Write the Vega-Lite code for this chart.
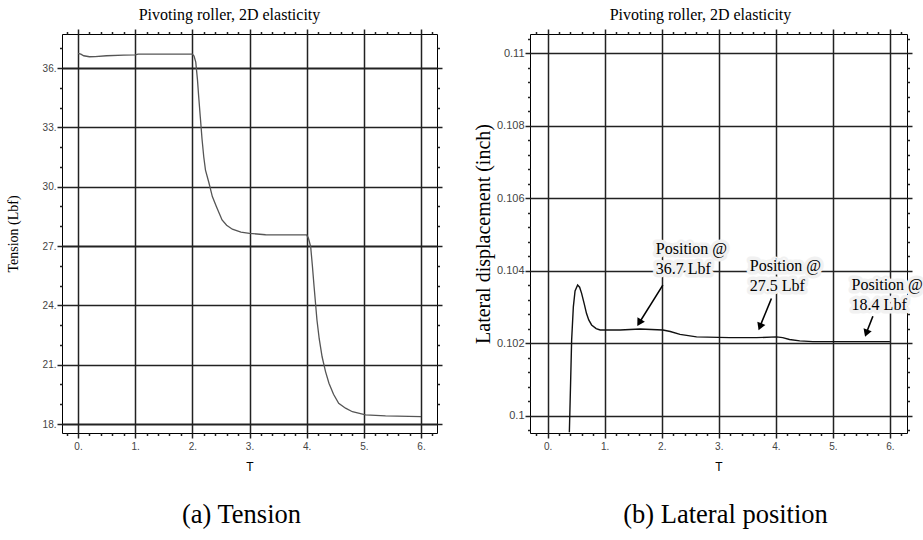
{
  "$schema": "https://vega.github.io/schema/vega-lite/v6.json",
  "padding": {"left": 5, "top": 5, "right": 0, "bottom": 0},
  "background": "white",
  "spacing": 28,
  "config": {
    "view": {"stroke": "#000", "strokeWidth": 1},
    "axis": {
      "domain": false,
      "gridColor": "#222",
      "tickColor": "#222",
      "labelColor": "#444",
      "labelFont": "Liberation Sans",
      "labelFontSize": 10,
      "titleColor": "#000",
      "titleFontWeight": "normal"
    },
    "title": {"font": "Liberation Serif", "fontWeight": "normal", "color": "#000"}
  },
  "datasets": {
    "tension": [
      {"t": 0, "v": 36.74}, {"t": 0.05, "v": 36.7}, {"t": 0.1, "v": 36.62}, {"t": 0.2, "v": 36.57},
      {"t": 0.3, "v": 36.58}, {"t": 0.5, "v": 36.62}, {"t": 0.8, "v": 36.65}, {"t": 1.0, "v": 36.66},
      {"t": 1.05, "v": 36.7}, {"t": 1.5, "v": 36.7}, {"t": 2.0, "v": 36.7}, {"t": 2.03, "v": 36.6},
      {"t": 2.06, "v": 36.3}, {"t": 2.09, "v": 35.4}, {"t": 2.11, "v": 34.6}, {"t": 2.14, "v": 33.5},
      {"t": 2.17, "v": 32.4}, {"t": 2.2, "v": 31.5}, {"t": 2.23, "v": 30.84}, {"t": 2.29, "v": 30.2},
      {"t": 2.35, "v": 29.5}, {"t": 2.42, "v": 29.0}, {"t": 2.52, "v": 28.32}, {"t": 2.6, "v": 28.05},
      {"t": 2.7, "v": 27.85}, {"t": 2.85, "v": 27.7}, {"t": 3.0, "v": 27.64}, {"t": 3.28, "v": 27.57},
      {"t": 4.0, "v": 27.56}, {"t": 4.03, "v": 27.4}, {"t": 4.07, "v": 26.97}, {"t": 4.1, "v": 26.0},
      {"t": 4.13, "v": 24.94}, {"t": 4.18, "v": 23.26}, {"t": 4.22, "v": 22.3}, {"t": 4.27, "v": 21.4},
      {"t": 4.33, "v": 20.65}, {"t": 4.39, "v": 20.06}, {"t": 4.47, "v": 19.5}, {"t": 4.56, "v": 19.05},
      {"t": 4.68, "v": 18.8}, {"t": 4.8, "v": 18.62}, {"t": 5.03, "v": 18.46}, {"t": 5.38, "v": 18.41},
      {"t": 6.0, "v": 18.37}
    ],
    "lateral": [
      {"t": 0.38, "v": 0.09955}, {"t": 0.4, "v": 0.1008}, {"t": 0.42, "v": 0.10209}, {"t": 0.45, "v": 0.10301},
      {"t": 0.48, "v": 0.10345}, {"t": 0.525, "v": 0.10361}, {"t": 0.56, "v": 0.10355}, {"t": 0.595, "v": 0.10338},
      {"t": 0.64, "v": 0.1031}, {"t": 0.68, "v": 0.10283}, {"t": 0.72, "v": 0.10265}, {"t": 0.77, "v": 0.10251},
      {"t": 0.85, "v": 0.10241}, {"t": 0.92, "v": 0.10237}, {"t": 1.27, "v": 0.10237}, {"t": 1.62, "v": 0.1024},
      {"t": 2.02, "v": 0.10237}, {"t": 2.15, "v": 0.10233}, {"t": 2.32, "v": 0.10225}, {"t": 2.61, "v": 0.10218},
      {"t": 3.19, "v": 0.10216}, {"t": 3.66, "v": 0.10216}, {"t": 4.01, "v": 0.10218}, {"t": 4.12, "v": 0.10216},
      {"t": 4.24, "v": 0.10211}, {"t": 4.42, "v": 0.10207}, {"t": 4.65, "v": 0.10205}, {"t": 6.0, "v": 0.10205}
    ],
    "notes": [
      {"t": 1.896, "v": 0.10482, "label": "Position @\n36.7 Lbf"},
      {"t": 3.543, "v": 0.10435, "label": "Position @\n27.5 Lbf"},
      {"t": 5.329, "v": 0.10382, "label": "Position @\n18.4 Lbf"}
    ],
    "arrows": [
      {"t": 2.019, "v": 0.10361, "t2": 1.61, "v2": 0.10258},
      {"t": 3.923, "v": 0.10324, "t2": 3.725, "v2": 0.10248},
      {"t": 5.702, "v": 0.10275, "t2": 5.59, "v2": 0.1023}
    ],
    "heads": [
      {"t": 1.605, "v": 0.10257, "angle": 31},
      {"t": 3.722, "v": 0.10246, "angle": 22},
      {"t": 5.587, "v": 0.10228, "angle": 20}
    ]
  },
  "hconcat": [
    {
      "width": 375,
      "height": 399,
      "title": {"text": "(a) Tension", "orient": "bottom", "font": "Liberation Serif", "fontWeight": "normal", "fontSize": 26.5, "offset": 30, "dx": -8, "color": "#000"},
      "layer": [
        {
          "data": {"name": "tension"},
          "mark": {"type": "line", "color": "#555", "strokeWidth": 1.3},
          "encoding": {
            "x": {
              "field": "t", "type": "quantitative",
              "scale": {"domain": [-0.28, 6.28], "nice": false, "zero": false},
              "axis": {
                "orient": "bottom",
                "values": [-0.2,0,0.2,0.4,0.6,0.8,1,1.2,1.4,1.6,1.8,2,2.2,2.4,2.6,2.8,3,3.2,3.4,3.6,3.8,4,4.2,4.4,4.6,4.8,5,5.2,5.4,5.6,5.8,6,6.2],
                "labelExpr": "abs(datum.value - round(datum.value)) < 0.001 ? round(datum.value) + '.' : ''",
                "grid": true,
                "gridWidth": 1.5,
                "gridOpacity": {"condition": {"test": "abs(datum.value - round(datum.value)) < 0.001", "value": 1}, "value": 0},
                "tickSize": {"condition": {"test": "abs(datum.value - round(datum.value)) < 0.001", "value": 5}, "value": 2.5},
                "tickWidth": 1.5,
                "labelPadding": 3,
                "title": "T",
                "titleFont": "Liberation Sans",
                "titleFontSize": 12,
                "titlePadding": 10
              }
            },
            "y": {
              "field": "v", "type": "quantitative",
              "scale": {"domain": [17.545, 37.72], "nice": false, "zero": false},
              "axis": {
                "orient": "left",
                "values": [18,19,20,21,22,23,24,25,26,27,28,29,30,31,32,33,34,35,36,37],
                "labelExpr": "datum.value % 3 == 0 ? datum.value + '.' : ''",
                "grid": true,
                "gridWidth": {"condition": {"test": "datum.value % 9 == 0", "value": 2.2}, "value": 1.4},
                "gridOpacity": {"condition": {"test": "datum.value % 3 == 0", "value": 1}, "value": 0},
                "tickSize": {"condition": {"test": "datum.value % 3 == 0", "value": 5}, "value": 2.5},
                "tickWidth": 1.5,
                "labelPadding": 1,
                "title": "Tension (Lbf)",
                "titleFont": "Liberation Serif",
                "titleFontSize": 14,
                "titlePadding": 22
              }
            }
          }
        },
        {
          "data": {"name": "tension"},
          "mark": {"type": "line", "opacity": 0},
          "encoding": {
            "x": {
              "field": "t", "type": "quantitative",
              "scale": {"domain": [-0.28, 6.28], "nice": false, "zero": false},
              "axis": {
                "orient": "top",
                "values": [-0.2,0,0.2,0.4,0.6,0.8,1,1.2,1.4,1.6,1.8,2,2.2,2.4,2.6,2.8,3,3.2,3.4,3.6,3.8,4,4.2,4.4,4.6,4.8,5,5.2,5.4,5.6,5.8,6,6.2],
                "labels": false,
                "grid": false,
                "tickSize": {"condition": {"test": "abs(datum.value - round(datum.value)) < 0.001", "value": 5}, "value": 2.5},
                "tickWidth": 1.5,
                "title": "Pivoting roller, 2D elasticity",
                "titleFont": "Liberation Serif",
                "titleFontSize": 16,
                "titlePadding": 6,
                "titleX": 167
              }
            },
            "y": {
              "field": "v", "type": "quantitative",
              "scale": {"domain": [17.545, 37.72], "nice": false, "zero": false},
              "axis": {
                "orient": "right",
                "values": [18,19,20,21,22,23,24,25,26,27,28,29,30,31,32,33,34,35,36,37],
                "labels": false,
                "grid": false,
                "tickSize": {"condition": {"test": "datum.value % 3 == 0", "value": 5}, "value": 2.5},
                "tickWidth": 1.5,
                "title": null
              }
            }
          }
        }
      ],
      "resolve": {"axis": {"x": "independent", "y": "independent"}}
    },
    {
      "width": 377,
      "height": 399,
      "title": {"text": "(b) Lateral position", "orient": "bottom", "font": "Liberation Serif", "fontWeight": "normal", "fontSize": 26.5, "offset": 30, "dx": 7, "color": "#000"},
      "layer": [
        {
          "data": {"name": "lateral"},
          "mark": {"type": "line", "color": "#111", "strokeWidth": 1.4},
          "encoding": {
            "x": {
              "field": "t", "type": "quantitative",
              "scale": {"domain": [-0.31, 6.3], "nice": false, "zero": false},
              "axis": {
                "orient": "bottom",
                "values": [-0.2,0,0.2,0.4,0.6,0.8,1,1.2,1.4,1.6,1.8,2,2.2,2.4,2.6,2.8,3,3.2,3.4,3.6,3.8,4,4.2,4.4,4.6,4.8,5,5.2,5.4,5.6,5.8,6,6.2],
                "labelExpr": "abs(datum.value - round(datum.value)) < 0.001 ? round(datum.value) + '.' : ''",
                "grid": true,
                "gridWidth": 1.5,
                "gridOpacity": {"condition": {"test": "abs(datum.value - round(datum.value)) < 0.001", "value": 1}, "value": 0},
                "tickSize": {"condition": {"test": "abs(datum.value - round(datum.value)) < 0.001", "value": 5}, "value": 2.5},
                "tickWidth": 1.5,
                "labelPadding": 3,
                "title": "T",
                "titleFont": "Liberation Sans",
                "titleFontSize": 12,
                "titlePadding": 10
              }
            },
            "y": {
              "field": "v", "type": "quantitative",
              "scale": {"domain": [0.099531, 0.110532], "nice": false, "zero": false},
              "axis": {
                "orient": "left",
                "values": [0.0996,0.1,0.1004,0.1008,0.1012,0.1016,0.102,0.1024,0.1028,0.1032,0.1036,0.104,0.1044,0.1048,0.1052,0.1056,0.106,0.1064,0.1068,0.1072,0.1076,0.108,0.1084,0.1088,0.1092,0.1096,0.11,0.1104],
                "labelExpr": "abs(datum.value*500 - round(datum.value*500)) < 0.01 ? format(datum.value, '.3~f') : ''",
                "grid": true,
                "gridWidth": 1.5,
                "gridOpacity": {"condition": {"test": "abs(datum.value*500 - round(datum.value*500)) < 0.01", "value": 1}, "value": 0},
                "tickSize": {"condition": {"test": "abs(datum.value*500 - round(datum.value*500)) < 0.01", "value": 5}, "value": 2.5},
                "tickWidth": 1.5,
                "labelPadding": 1,
                "labelFontSize": 11,
                "title": "Lateral displacement (inch)",
                "titleFont": "Liberation Serif",
                "titleFontSize": 20,
                "titlePadding": 3
              }
            }
          }
        },
        {
          "data": {"name": "lateral"},
          "mark": {"type": "line", "opacity": 0},
          "encoding": {
            "x": {
              "field": "t", "type": "quantitative",
              "scale": {"domain": [-0.31, 6.3], "nice": false, "zero": false},
              "axis": {
                "orient": "top",
                "values": [-0.2,0,0.2,0.4,0.6,0.8,1,1.2,1.4,1.6,1.8,2,2.2,2.4,2.6,2.8,3,3.2,3.4,3.6,3.8,4,4.2,4.4,4.6,4.8,5,5.2,5.4,5.6,5.8,6,6.2],
                "labels": false,
                "grid": false,
                "tickSize": {"condition": {"test": "abs(datum.value - round(datum.value)) < 0.001", "value": 5}, "value": 2.5},
                "tickWidth": 1.5,
                "title": "Pivoting roller, 2D elasticity",
                "titleFont": "Liberation Serif",
                "titleFontSize": 16,
                "titlePadding": 6,
                "titleX": 170
              }
            },
            "y": {
              "field": "v", "type": "quantitative",
              "scale": {"domain": [0.099531, 0.110532], "nice": false, "zero": false},
              "axis": {
                "orient": "right",
                "values": [0.0996,0.1,0.1004,0.1008,0.1012,0.1016,0.102,0.1024,0.1028,0.1032,0.1036,0.104,0.1044,0.1048,0.1052,0.1056,0.106,0.1064,0.1068,0.1072,0.1076,0.108,0.1084,0.1088,0.1092,0.1096,0.11,0.1104],
                "labels": false,
                "grid": false,
                "tickSize": {"condition": {"test": "abs(datum.value*500 - round(datum.value*500)) < 0.01", "value": 5}, "value": 2.5},
                "tickWidth": 1.5,
                "title": null
              }
            }
          }
        },
        {
          "data": {"name": "arrows"},
          "mark": {"type": "rule", "color": "#000", "strokeWidth": 1.6},
          "encoding": {
            "x": {"field": "t", "type": "quantitative", "axis": null},
            "y": {"field": "v", "type": "quantitative", "axis": null},
            "x2": {"field": "t2"},
            "y2": {"field": "v2"}
          }
        },
        {
          "data": {"name": "heads"},
          "mark": {"type": "point", "shape": "triangle-down", "filled": true, "color": "#000", "opacity": 1, "size": 75},
          "encoding": {
            "x": {"field": "t", "type": "quantitative", "axis": null},
            "y": {"field": "v", "type": "quantitative", "axis": null},
            "angle": {"field": "angle", "type": "quantitative", "scale": null}
          }
        },
        {
          "data": {"name": "notes"},
          "mark": {"type": "text", "align": "left", "baseline": "top", "font": "Liberation Serif", "fontSize": 16, "lineBreak": "\n", "lineHeight": 20, "color": "#f1f1f1", "stroke": "#f1f1f1", "strokeWidth": 7, "strokeJoin": "round"},
          "encoding": {
            "x": {"field": "t", "type": "quantitative", "axis": null},
            "y": {"field": "v", "type": "quantitative", "axis": null},
            "text": {"field": "label"}
          }
        },
        {
          "data": {"name": "notes"},
          "mark": {"type": "text", "align": "left", "baseline": "top", "font": "Liberation Serif", "fontSize": 16, "lineBreak": "\n", "lineHeight": 20, "color": "#000"},
          "encoding": {
            "x": {"field": "t", "type": "quantitative", "axis": null},
            "y": {"field": "v", "type": "quantitative", "axis": null},
            "text": {"field": "label"}
          }
        }
      ],
      "resolve": {"axis": {"x": "independent", "y": "independent"}}
    }
  ]
}
